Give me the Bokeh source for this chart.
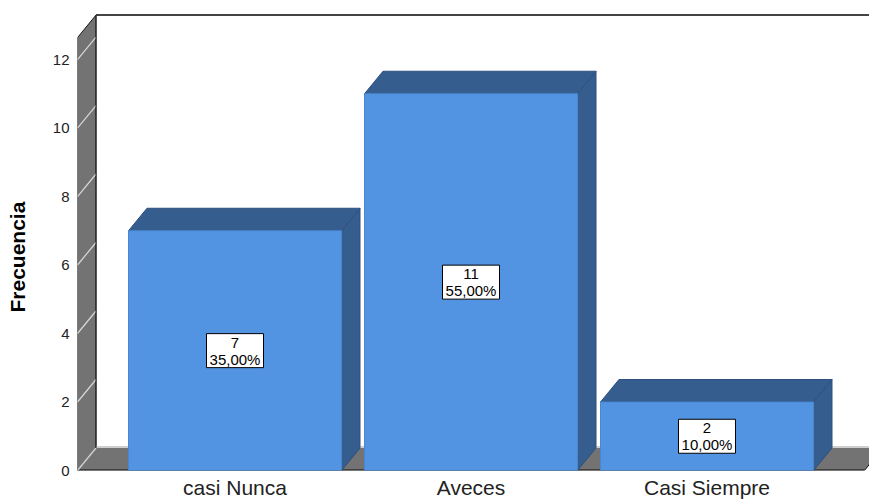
import math
from bokeh.plotting import figure
from bokeh.models import Range1d, FixedTicker, Title
from bokeh.core.properties import value
from bokeh.embed import file_html
from bokeh.resources import INLINE

# ---- data ----
categories = ["casi Nunca", "Aveces", "Casi Siempre"]
counts = [7, 11, 2]
y_ticks = [0, 2, 4, 6, 8, 10, 12]
y_axis_title = "Frecuencia"

total = sum(counts)
pct_labels = [("%.2f" % (100.0 * c / total)).replace(".", ",") + "%" for c in counts]
box_texts = [f"{c}\n{p}" for c, p in zip(counts, pct_labels)]

# ---- style / geometry constants ----
X0, X1 = -0.6674, 2.6886          # x range (category index units)
Y0, Y1 = 0.0, 13.723              # y range (count units)
Y_TOP = 12.64                     # top of the axis wall
X_FLOOR_END = 2.667               # right end of the floor (front)
DX, DY = 0.0784, 0.657            # 3D depth offset
HW = 0.4513                       # half bar width
FRONT = "#5294E2"
SIDE = "#355D8E"
WALL = "#737373"
FONT = "Liberation Sans"

p = figure(width=869, height=502, x_range=Range1d(X0, X1), y_range=Range1d(Y0, Y1),
           min_border_left=77, min_border_right=0, min_border_top=0, min_border_bottom=32,
           toolbar_location=None, output_backend="svg")
p.outline_line_color = None
p.grid.visible = False
p.background_fill_color = "white"

# left wall
p.patch([X0, X0, X0 + DX, X0 + DX], [Y0, Y_TOP, Y_TOP + DY, DY],
        fill_color=WALL, line_color="#1a1a1a", line_width=1)
# floor
p.patch([X0, X0 + DX, X_FLOOR_END + DX, X_FLOOR_END], [Y0, DY, DY, Y0],
        fill_color=WALL, line_color=None)
# floor back edge highlight
p.line([X0 + DX, X1], [DY + 0.03, DY + 0.03], line_color="#cfcfcf", line_width=2)
# floor front edge
p.line([X0, X_FLOOR_END], [Y0, Y0], line_color="#111111", line_width=2)
p.line([X_FLOOR_END, X_FLOOR_END + DX], [Y0, DY], line_color="#111111", line_width=1)
# wall grid lines
for t in y_ticks:
    p.line([X0, X0 + DX], [t, t + DY], line_color="#d8d8d8", line_width=1.2)
# back plane top border
p.line([X0 + DX, X1], [Y_TOP + DY, Y_TOP + DY], line_color="#444444", line_width=2)
p.line([X0 + DX, X0 + DX], [DY, Y_TOP + DY], line_color="#222222", line_width=1)

# bars
for i, c in enumerate(counts):
    l, r = i - HW, i + HW
    p.patch([r, r, r + DX, r + DX], [0, c, c + DY, DY], fill_color=SIDE,
            line_color="#2d5080", line_width=1)
    p.patch([l, l + DX, r + DX, r], [c, c + DY, c + DY, c], fill_color=SIDE,
            line_color="#2d5080", line_width=1)
    p.quad(left=[l], right=[r], bottom=[0], top=[c], fill_color=FRONT,
           line_color="#4a86cf", line_width=1)

# value boxes
xs = list(range(len(counts)))
mids = [c / 2 for c in counts]
p.rect(x=xs, y=mids, width=57, height=34, width_units="screen", height_units="screen",
       fill_color="white", line_color="black", line_width=1)
p.text(x=xs, y=mids, text=box_texts, text_align="center", text_baseline="middle",
       text_font=value(FONT), text_font_size="15px", text_color="black",
       text_line_height=1.0)

# axes
p.xaxis.ticker = FixedTicker(ticks=xs)
p.xaxis.major_label_overrides = {i: n for i, n in enumerate(categories)}
p.xaxis.major_label_text_font = FONT
p.xaxis.major_label_text_font_size = "21px"
p.xaxis.major_label_text_color = "#222222"
p.xaxis.major_label_standoff = 5
p.xaxis.axis_line_color = None
p.xaxis.major_tick_line_color = None
p.xaxis.minor_tick_line_color = None
p.xaxis.major_tick_out = 0
p.xaxis.major_tick_in = 0
p.xaxis.minor_tick_out = 0

p.yaxis.ticker = FixedTicker(ticks=y_ticks)
p.yaxis.major_label_text_font = FONT
p.yaxis.major_label_text_font_size = "15px"
p.yaxis.major_label_text_color = "#222222"
p.yaxis.major_label_standoff = 8
p.yaxis.axis_line_color = None
p.yaxis.major_tick_line_color = None
p.yaxis.minor_tick_line_color = None
p.yaxis.major_tick_out = 0
p.yaxis.major_tick_in = 0
p.yaxis.minor_tick_out = 0
p.yaxis.axis_label = " "
p.yaxis.axis_label_text_font_size = "8px"
p.yaxis.axis_label_standoff = 2

p.add_layout(Title(text=y_axis_title, align="left", vertical_align="top", offset=158,
                   standoff=10, text_font=FONT, text_font_size="21px",
                   text_font_style="bold", text_color="black"), "left")

open("out.html", "w").write(file_html(p, INLINE))
